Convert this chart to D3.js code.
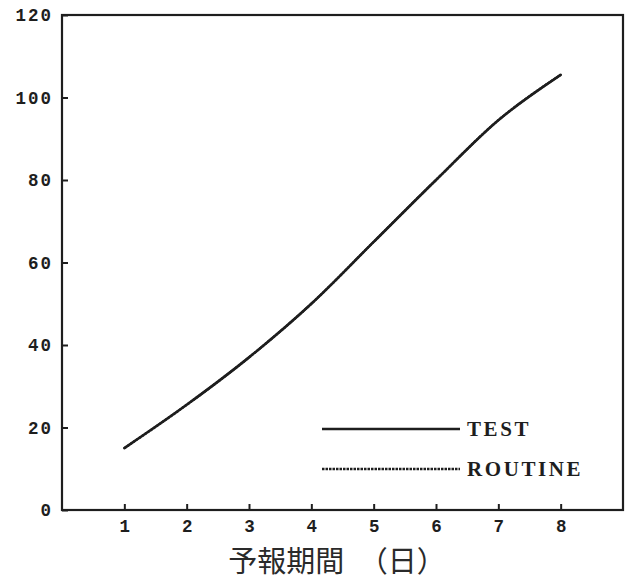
<!DOCTYPE html>
<html>
<head>
<meta charset="utf-8">
<script src="https://cdn.jsdelivr.net/npm/d3@7/dist/d3.min.js"></script>
<style>
  html, body { margin: 0; padding: 0; background: #fff; }
  svg { display: block; }
  .tick text { font-family: "Liberation Mono", "DejaVu Sans Mono", monospace; font-weight: bold; }
</style>
</head>
<body>
<svg id="chart" width="629" height="580"></svg>
<script>
// Forecast period (days) and the two verification series
const days = [1, 2, 3, 4, 5, 6, 7, 8];
const testValues = [15, 25.5, 37, 50, 65, 80, 94.5, 105.5];
const routineValues = [15, 25.5, 37, 50, 65, 80, 94.5, 105.5];
const yTicks = [0, 20, 40, 60, 80, 100, 120];
const xTitle = "予報期間　（日）";
const legendLabels = ["TEST", "ROUTINE"];

const svg = d3.select("#chart");
const ink = "#1e1e1e";

const x = d3.scaleLinear().domain([0, 9]).range([62, 623]);
const y = d3.scaleLinear().domain([0, 120]).range([510, 15]);

// Y axis: ticks point into the plot
const yAxis = svg.append("g")
  .attr("transform", `translate(${x(0)},0)`)
  .call(d3.axisLeft(y).tickValues(yTicks).tickSizeInner(-6).tickSizeOuter(0).tickPadding(9));
yAxis.select(".domain").remove();
yAxis.selectAll(".tick line").attr("stroke", ink).attr("stroke-width", 2);
yAxis.selectAll(".tick text")
  .attr("fill", ink)
  .style("font-size", "17.5px")
  .style("letter-spacing", "2px");

// X axis: ticks point up into the plot
const xAxis = svg.append("g")
  .attr("transform", `translate(0,${y(0)})`)
  .call(d3.axisBottom(x).tickValues(days).tickSizeInner(-6).tickSizeOuter(0).tickPadding(10));
xAxis.select(".domain").remove();
xAxis.selectAll(".tick line").attr("stroke", ink).attr("stroke-width", 2);
xAxis.selectAll(".tick text")
  .attr("fill", ink)
  .style("font-size", "17.5px");

// Plot frame
svg.append("rect")
  .attr("x", x(0)).attr("y", y(120))
  .attr("width", x(9) - x(0)).attr("height", y(0) - y(120))
  .attr("fill", "none").attr("stroke", ink).attr("stroke-width", 2.2);

// Series curves
const line = d3.line()
  .x((d, i) => x(days[i]))
  .y(d => y(d))
  .curve(d3.curveMonotoneX);

svg.append("path")
  .datum(testValues)
  .attr("d", line)
  .attr("fill", "none").attr("stroke", ink).attr("stroke-width", 2.6)
  .attr("stroke-linecap", "round");

svg.append("path")
  .datum(routineValues)
  .attr("d", line)
  .attr("fill", "none").attr("stroke", ink).attr("stroke-width", 2.4)
  .attr("stroke-dasharray", "2.5,1");

// Legend
const legend = svg.append("g");
const legendRows = [
  { label: legendLabels[0], y: 429, dash: null },
  { label: legendLabels[1], y: 469, dash: "2.5,1" }
];
legendRows.forEach(r => {
  legend.append("line")
    .attr("x1", 322).attr("x2", 460)
    .attr("y1", r.y).attr("y2", r.y)
    .attr("stroke", ink).attr("stroke-width", 2.5)
    .attr("stroke-dasharray", r.dash);
  legend.append("text")
    .attr("x", 467).attr("y", r.y)
    .attr("dy", "0.35em")
    .attr("fill", ink)
    .style("font-family", "'Liberation Serif', 'DejaVu Serif', serif")
    .style("font-weight", "bold")
    .style("font-size", "21px")
    .style("letter-spacing", "2.6px")
    .text(r.label);
});

// Axis title
svg.append("text")
  .attr("x", 337).attr("y", 572)
  .attr("text-anchor", "middle")
  .attr("fill", "#2a2a2a")
  .style("font-family", "'Noto Sans CJK JP', sans-serif")
  .style("font-size", "29px")
  .text(xTitle);
</script>
</body>
</html>
